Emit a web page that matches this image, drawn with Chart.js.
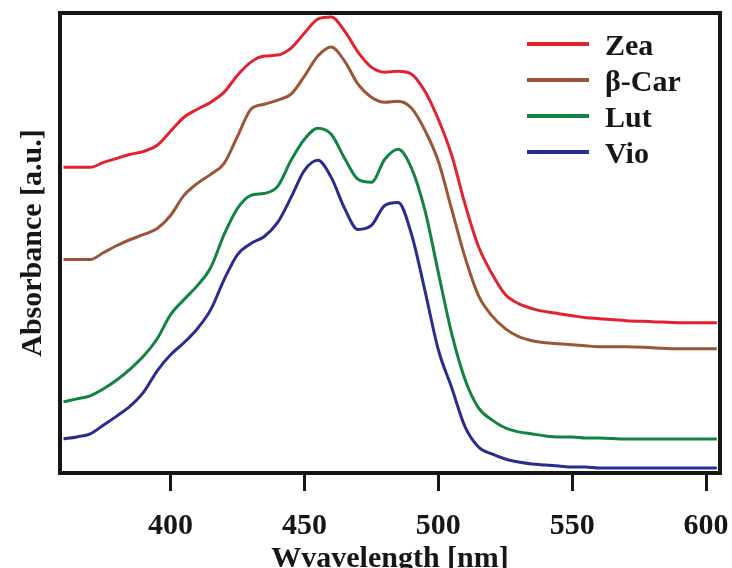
<!DOCTYPE html>
<html>
<head>
<meta charset="utf-8">
<script src="https://cdn.jsdelivr.net/npm/chart.js@4.4.1/dist/chart.umd.min.js"></script>
<style>
  body { margin: 0; background: #fff; }
  canvas { display: block; }
</style>
</head>
<body>
<canvas id="specChart" width="732" height="568"></canvas>
<script>
// wavelength grid (nm) and absorbance (a.u., offset traces)
const wavelengths = [360, 365, 370, 375, 380, 385, 390, 395, 400, 405, 410, 415, 420, 425, 430, 435, 440, 445, 450, 455,
                     460, 465, 470, 475, 480, 485, 490, 495, 500, 505, 510, 515, 520, 525, 530, 535, 540, 545, 550, 555,
                     560, 570, 580, 590, 600, 604];
const zea = [3.05, 3.05, 3.05, 3.10, 3.14, 3.18, 3.21, 3.27, 3.41, 3.55, 3.63, 3.70, 3.80, 3.97, 4.10, 4.16, 4.17, 4.24, 4.39, 4.53,
             4.55, 4.41, 4.20, 4.05, 4.00, 4.01, 3.98, 3.81, 3.53, 3.17, 2.68, 2.26, 1.99, 1.78, 1.69, 1.64, 1.61, 1.59, 1.57, 1.55,
             1.54, 1.52, 1.51, 1.50, 1.50, 1.50];
const bCar = [2.13, 2.13, 2.13, 2.20, 2.27, 2.33, 2.38, 2.44, 2.57, 2.77, 2.89, 2.98, 3.09, 3.36, 3.63, 3.68, 3.72, 3.78, 3.96, 4.16,
              4.25, 4.11, 3.88, 3.75, 3.70, 3.71, 3.64, 3.42, 3.11, 2.63, 2.15, 1.77, 1.57, 1.44, 1.36, 1.32, 1.30, 1.29, 1.28, 1.27,
              1.26, 1.26, 1.25, 1.24, 1.24, 1.24];
const lut = [0.71, 0.74, 0.77, 0.84, 0.93, 1.04, 1.17, 1.34, 1.58, 1.73, 1.87, 2.05, 2.38, 2.64, 2.77, 2.79, 2.86, 3.12, 3.33, 3.44,
             3.38, 3.14, 2.93, 2.90, 3.13, 3.23, 3.04, 2.62, 2.00, 1.39, 0.93, 0.65, 0.53, 0.45, 0.41, 0.39, 0.37, 0.36, 0.36, 0.35,
             0.35, 0.34, 0.34, 0.34, 0.34, 0.34];
const vio = [0.34, 0.36, 0.39, 0.48, 0.57, 0.67, 0.81, 1.02, 1.18, 1.30, 1.44, 1.63, 1.93, 2.18, 2.29, 2.36, 2.50, 2.75, 3.02, 3.12,
             2.95, 2.64, 2.43, 2.47, 2.67, 2.70, 2.38, 1.82, 1.23, 0.85, 0.46, 0.26, 0.19, 0.14, 0.11, 0.09, 0.08, 0.07, 0.06, 0.06,
             0.05, 0.05, 0.05, 0.05, 0.05, 0.05];
const seriesNames = ['Zea', '\u03B2-Car', 'Lut', 'Vio'];
const xTickValues = [400, 450, 500, 550, 600];

const colors = ['#e2222f', '#9a5636', '#138340', '#2a2d8c'];
const ink = '#161616';
const serif = '"Liberation Serif", "Times New Roman", serif';

function toPoints(vals) {
  return wavelengths.map((w, i) => ({ x: w, y: vals[i] }));
}

const datasets = [zea, bCar, lut, vio].map((vals, i) => ({
  label: seriesNames[i],
  data: toPoints(vals),
  borderColor: colors[i],
  borderWidth: 3,
  pointRadius: 0,
  fill: false,
  cubicInterpolationMode: 'monotone'
}));

// box round the plot area
const framePlugin = {
  id: 'frame',
  afterDraw(chart) {
    const { ctx, chartArea: a } = chart;
    ctx.save();
    ctx.strokeStyle = ink;
    ctx.lineWidth = 4;
    ctx.strokeRect(a.left, a.top, a.right - a.left, a.bottom - a.top);
    ctx.restore();
  }
};

// legend inside the plot, top right
const legendPlugin = {
  id: 'innerLegend',
  afterDraw(chart) {
    const ctx = chart.ctx;
    ctx.save();
    chart.data.datasets.forEach((ds, i) => {
      const y = 44 + i * 36;
      ctx.strokeStyle = ds.borderColor;
      ctx.lineWidth = 4;
      ctx.beginPath();
      ctx.moveTo(527, y);
      ctx.lineTo(589, y);
      ctx.stroke();
      ctx.fillStyle = ink;
      ctx.font = 'bold 30px ' + serif;
      ctx.textBaseline = 'middle';
      ctx.textAlign = 'left';
      ctx.fillText(ds.label, 605, y + 3);
    });
    ctx.restore();
  }
};

new Chart(document.getElementById('specChart'), {
  type: 'line',
  data: { datasets: datasets },
  plugins: [framePlugin, legendPlugin],
  options: {
    responsive: false,
    animation: false,
    devicePixelRatio: 1,
    layout: { padding: { top: 13, right: 12, left: 0, bottom: 0 } },
    plugins: { legend: { display: false }, tooltip: { enabled: false } },
    scales: {
      x: {
        type: 'linear',
        min: 358.7,
        max: 605.2,
        afterBuildTicks: (scale) => { scale.ticks = xTickValues.map(v => ({ value: v })); },
        afterFit: (scale) => {
          scale.height = 95;
          scale.paddingLeft = 0;
          scale.paddingRight = 0;
        },
        grid: { drawOnChartArea: false, drawTicks: true, tickLength: 18, tickWidth: 3, color: ink },
        border: { display: false },
        ticks: {
          color: ink,
          padding: 17,
          maxRotation: 0,
          font: { family: serif, size: 30, weight: 'bold' }
        },
        title: {
          display: true,
          text: 'Wvavelength [nm]',
          color: ink,
          padding: { top: 0, bottom: -9 },
          font: { family: serif, size: 30, weight: 'bold' }
        }
      },
      y: {
        min: 0,
        max: 4.59,
        afterFit: (scale) => { scale.width = 60; },
        grid: { display: false },
        border: { display: false },
        ticks: { display: false },
        title: {
          display: true,
          text: 'Absorbance [a.u.]',
          color: ink,
          padding: { top: 15, bottom: 0 },
          font: { family: serif, size: 30, weight: 'bold' }
        }
      }
    }
  }
});
</script>
</body>
</html>
